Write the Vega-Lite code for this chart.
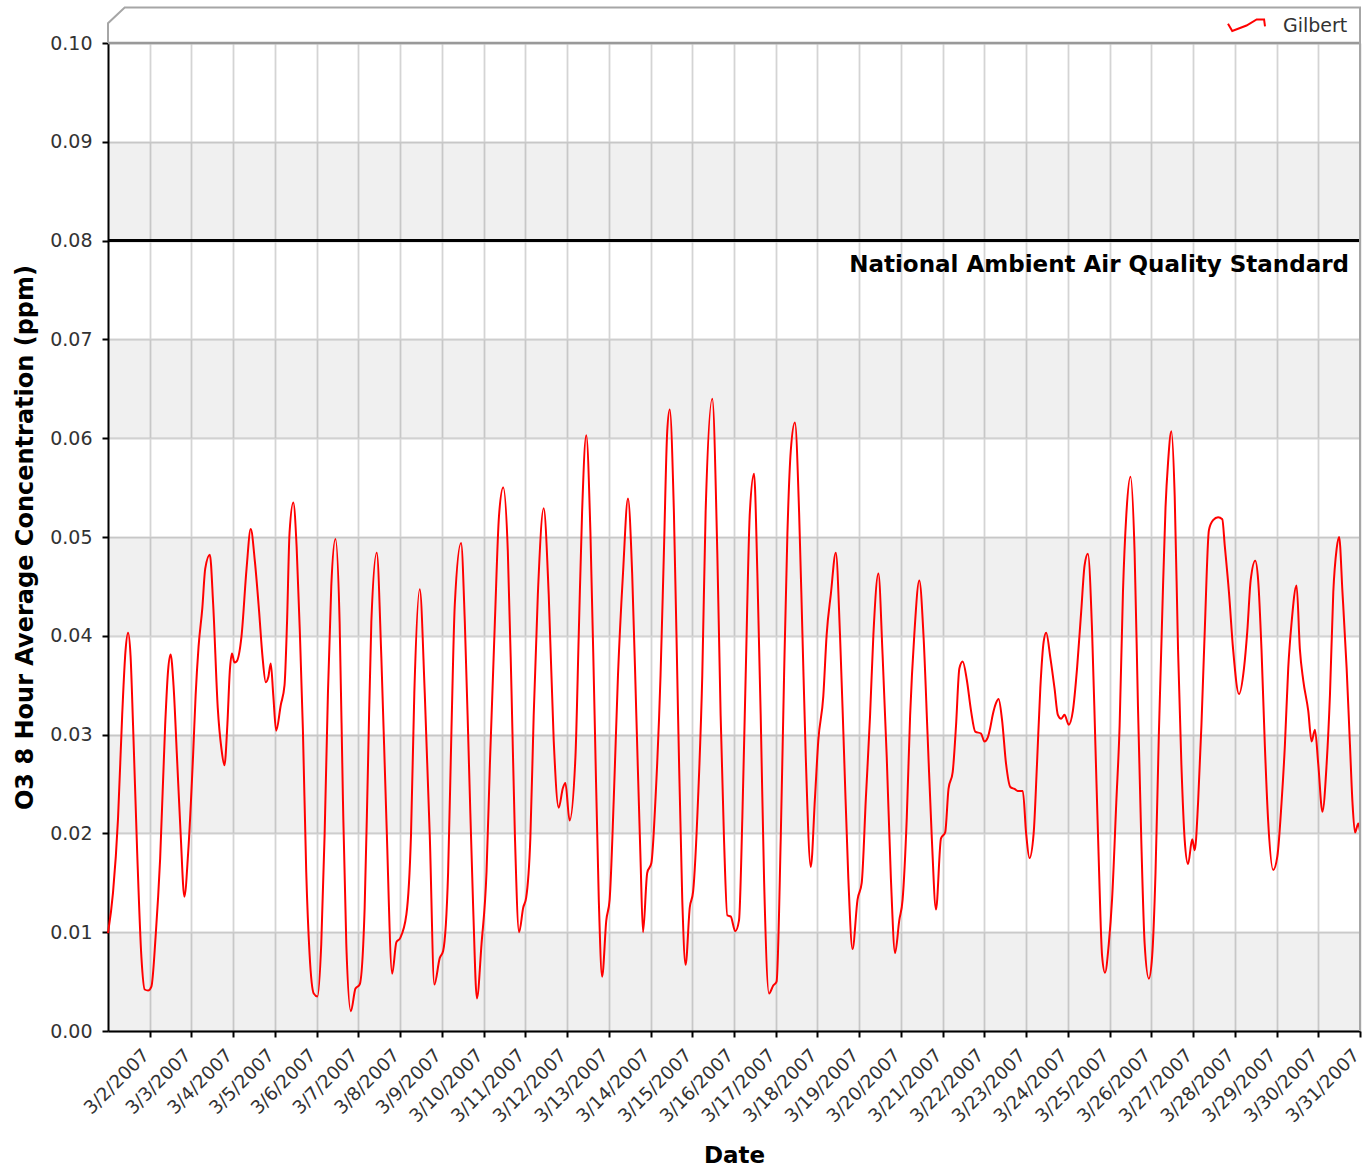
{
  "$schema": "https://vega.github.io/schema/vega-lite/v6.json",
  "width": 1252,
  "height": 988,
  "autosize": {"type": "none"},
  "padding": {"left": 108, "top": 43, "right": 5, "bottom": 138},
  "background": "white",
  "config": {
    "view": {"stroke": null},
    "font": "DejaVu Sans",
    "axis": {"labelFont": "DejaVu Sans", "titleFont": "DejaVu Sans"},
    "legend": {"labelFont": "DejaVu Sans"}
  },
  "layer": [
    {
      "data": {"values": [
        {"ppm": 0.00, "ppm2": 0.01},
        {"ppm": 0.02, "ppm2": 0.03},
        {"ppm": 0.04, "ppm2": 0.05},
        {"ppm": 0.06, "ppm2": 0.07},
        {"ppm": 0.08, "ppm2": 0.09}
      ]},
      "mark": {"type": "rect", "fill": "#000000", "fillOpacity": 0.058},
      "encoding": {
        "x": {"datum": 1, "type": "quantitative", "scale": {"domain": [1, 31], "nice": false, "zero": false}},
        "x2": {"datum": 31},
        "y": {"field": "ppm", "type": "quantitative", "scale": {"domain": [0, 0.1], "nice": false, "zero": false}},
        "y2": {"field": "ppm2"}
      }
    },
    {
      "data": {"values": [
        {"day":1.00,"ppm":0.0099},{"day":1.12,"ppm":0.0140},{"day":1.24,"ppm":0.0215},{"day":1.34,"ppm":0.0320},{"day":1.42,"ppm":0.0385},{"day":1.48,"ppm":0.0403},{"day":1.54,"ppm":0.0380},{"day":1.60,"ppm":0.0310},{"day":1.70,"ppm":0.0180},{"day":1.80,"ppm":0.0075},{"day":1.88,"ppm":0.0042},{"day":1.96,"ppm":0.0041},
        {"day":2.04,"ppm":0.0045},{"day":2.14,"ppm":0.0095},{"day":2.25,"ppm":0.0175},{"day":2.37,"ppm":0.0310},{"day":2.44,"ppm":0.0365},{"day":2.50,"ppm":0.0381},{"day":2.57,"ppm":0.0350},{"day":2.65,"ppm":0.0280},{"day":2.74,"ppm":0.0200},{"day":2.83,"ppm":0.0136},{"day":2.92,"ppm":0.0180},
        {"day":3.04,"ppm":0.0280},{"day":3.10,"ppm":0.0340},{"day":3.17,"ppm":0.0389},{"day":3.26,"ppm":0.0428},{"day":3.33,"ppm":0.0468},{"day":3.44,"ppm":0.0482},{"day":3.52,"ppm":0.0432},{"day":3.63,"ppm":0.0327},{"day":3.72,"ppm":0.0285},{"day":3.79,"ppm":0.0269},{"day":3.86,"ppm":0.0310},{"day":3.92,"ppm":0.0365},{"day":3.97,"ppm":0.0382},
        {"day":4.03,"ppm":0.0373},{"day":4.08,"ppm":0.0374},{"day":4.20,"ppm":0.0400},{"day":4.32,"ppm":0.0468},{"day":4.42,"ppm":0.0508},{"day":4.52,"ppm":0.0475},{"day":4.62,"ppm":0.0425},{"day":4.70,"ppm":0.0380},{"day":4.78,"ppm":0.0353},{"day":4.84,"ppm":0.0358},{"day":4.90,"ppm":0.0372},{"day":4.96,"ppm":0.0340},
        {"day":5.03,"ppm":0.0304},{"day":5.14,"ppm":0.0330},{"day":5.23,"ppm":0.0350},{"day":5.29,"ppm":0.0414},{"day":5.35,"ppm":0.0504},{"day":5.44,"ppm":0.0535},{"day":5.52,"ppm":0.0490},{"day":5.60,"ppm":0.0400},{"day":5.67,"ppm":0.0305},{"day":5.75,"ppm":0.0161},{"day":5.83,"ppm":0.0078},{"day":5.93,"ppm":0.0038},
        {"day":6.02,"ppm":0.0035},{"day":6.11,"ppm":0.0088},{"day":6.19,"ppm":0.0198},{"day":6.27,"ppm":0.0342},{"day":6.35,"ppm":0.0450},{"day":6.45,"ppm":0.0498},{"day":6.55,"ppm":0.0414},{"day":6.63,"ppm":0.0233},{"day":6.71,"ppm":0.0088},{"day":6.82,"ppm":0.0020},{"day":6.93,"ppm":0.0043},
        {"day":7.03,"ppm":0.0047},{"day":7.15,"ppm":0.0125},{"day":7.23,"ppm":0.0269},{"day":7.31,"ppm":0.0414},{"day":7.44,"ppm":0.0484},{"day":7.55,"ppm":0.0378},{"day":7.67,"ppm":0.0215},{"day":7.81,"ppm":0.0058},{"day":7.91,"ppm":0.0090},
        {"day":8.00,"ppm":0.0094},{"day":8.15,"ppm":0.0118},{"day":8.26,"ppm":0.0198},{"day":8.34,"ppm":0.0342},{"day":8.47,"ppm":0.0447},{"day":8.59,"ppm":0.0342},{"day":8.71,"ppm":0.0198},{"day":8.82,"ppm":0.0047},{"day":8.95,"ppm":0.0074},
        {"day":9.03,"ppm":0.0081},{"day":9.15,"ppm":0.0161},{"day":9.23,"ppm":0.0305},{"day":9.31,"ppm":0.0432},{"day":9.46,"ppm":0.0494},{"day":9.55,"ppm":0.0414},{"day":9.65,"ppm":0.0269},{"day":9.75,"ppm":0.0125},{"day":9.84,"ppm":0.0033},{"day":9.95,"ppm":0.0088},
        {"day":10.07,"ppm":0.0161},{"day":10.15,"ppm":0.0269},{"day":10.27,"ppm":0.0414},{"day":10.37,"ppm":0.0522},{"day":10.47,"ppm":0.0550},{"day":10.58,"ppm":0.0486},{"day":10.67,"ppm":0.0342},{"day":10.75,"ppm":0.0198},{"day":10.85,"ppm":0.0100},{"day":10.95,"ppm":0.0125},
        {"day":11.02,"ppm":0.0135},{"day":11.12,"ppm":0.0195},{"day":11.20,"ppm":0.0319},{"day":11.30,"ppm":0.0442},{"day":11.44,"ppm":0.0529},{"day":11.56,"ppm":0.0442},{"day":11.68,"ppm":0.0294},{"day":11.80,"ppm":0.0226},{"day":11.90,"ppm":0.0246},{"day":11.96,"ppm":0.0251},
        {"day":12.06,"ppm":0.0213},{"day":12.20,"ppm":0.0277},{"day":12.28,"ppm":0.0401},{"day":12.36,"ppm":0.0525},{"day":12.46,"ppm":0.0603},{"day":12.56,"ppm":0.0504},{"day":12.66,"ppm":0.0319},{"day":12.76,"ppm":0.0133},{"day":12.84,"ppm":0.0055},{"day":12.94,"ppm":0.0112},
        {"day":13.02,"ppm":0.0133},{"day":13.12,"ppm":0.0236},{"day":13.22,"ppm":0.0360},{"day":13.34,"ppm":0.0463},{"day":13.46,"ppm":0.0539},{"day":13.56,"ppm":0.0463},{"day":13.66,"ppm":0.0319},{"day":13.76,"ppm":0.0174},{"day":13.82,"ppm":0.0100},{"day":13.92,"ppm":0.0160},
        {"day":14.02,"ppm":0.0170},{"day":14.12,"ppm":0.0236},{"day":14.24,"ppm":0.0360},{"day":14.32,"ppm":0.0484},{"day":14.40,"ppm":0.0607},{"day":14.46,"ppm":0.0629},{"day":14.56,"ppm":0.0525},{"day":14.66,"ppm":0.0319},{"day":14.76,"ppm":0.0133},{"day":14.84,"ppm":0.0067},{"day":14.94,"ppm":0.0125},
        {"day":15.02,"ppm":0.0141},{"day":15.14,"ppm":0.0236},{"day":15.24,"ppm":0.0360},{"day":15.32,"ppm":0.0525},{"day":15.48,"ppm":0.0640},{"day":15.60,"ppm":0.0484},{"day":15.68,"ppm":0.0319},{"day":15.76,"ppm":0.0195},{"day":15.84,"ppm":0.0117},{"day":15.92,"ppm":0.0116},
        {"day":16.03,"ppm":0.0101},{"day":16.12,"ppm":0.0112},{"day":16.20,"ppm":0.0216},{"day":16.28,"ppm":0.0360},{"day":16.38,"ppm":0.0525},{"day":16.48,"ppm":0.0564},{"day":16.56,"ppm":0.0463},{"day":16.64,"ppm":0.0319},{"day":16.72,"ppm":0.0154},{"day":16.84,"ppm":0.0038},{"day":16.94,"ppm":0.0046},
        {"day":17.02,"ppm":0.0050},{"day":17.12,"ppm":0.0195},{"day":17.20,"ppm":0.0360},{"day":17.28,"ppm":0.0504},{"day":17.36,"ppm":0.0587},{"day":17.46,"ppm":0.0616},{"day":17.56,"ppm":0.0525},{"day":17.64,"ppm":0.0401},{"day":17.72,"ppm":0.0277},{"day":17.84,"ppm":0.0166},{"day":17.94,"ppm":0.0236},
        {"day":18.02,"ppm":0.0294},{"day":18.14,"ppm":0.0339},{"day":18.22,"ppm":0.0401},{"day":18.32,"ppm":0.0442},{"day":18.44,"ppm":0.0484},{"day":18.54,"ppm":0.0401},{"day":18.64,"ppm":0.0277},{"day":18.74,"ppm":0.0154},{"day":18.84,"ppm":0.0083},{"day":18.96,"ppm":0.0133},
        {"day":19.06,"ppm":0.0150},{"day":19.16,"ppm":0.0236},{"day":19.26,"ppm":0.0319},{"day":19.34,"ppm":0.0401},{"day":19.46,"ppm":0.0463},{"day":19.56,"ppm":0.0381},{"day":19.66,"ppm":0.0277},{"day":19.76,"ppm":0.0154},{"day":19.86,"ppm":0.0079},{"day":19.96,"ppm":0.0112},
        {"day":20.04,"ppm":0.0133},{"day":20.14,"ppm":0.0216},{"day":20.22,"ppm":0.0319},{"day":20.32,"ppm":0.0401},{"day":20.44,"ppm":0.0456},{"day":20.54,"ppm":0.0401},{"day":20.64,"ppm":0.0298},{"day":20.74,"ppm":0.0195},{"day":20.84,"ppm":0.0123},{"day":20.96,"ppm":0.0195},
        {"day":21.06,"ppm":0.0201},{"day":21.14,"ppm":0.0245},{"day":21.24,"ppm":0.0262},{"day":21.32,"ppm":0.0309},{"day":21.40,"ppm":0.0367},{"day":21.48,"ppm":0.0374},{"day":21.58,"ppm":0.0355},{"day":21.68,"ppm":0.0324},{"day":21.78,"ppm":0.0303},{"day":21.92,"ppm":0.0301},
        {"day":22.00,"ppm":0.0293},{"day":22.08,"ppm":0.0297},{"day":22.14,"ppm":0.0307},{"day":22.20,"ppm":0.0320},{"day":22.28,"ppm":0.0332},{"day":22.34,"ppm":0.0336},{"day":22.42,"ppm":0.0316},{"day":22.52,"ppm":0.0270},{"day":22.62,"ppm":0.0247},{"day":22.72,"ppm":0.0245},{"day":22.80,"ppm":0.0243},{"day":22.92,"ppm":0.0243},
        {"day":23.00,"ppm":0.0200},{"day":23.08,"ppm":0.0175},{"day":23.18,"ppm":0.0200},{"day":23.26,"ppm":0.0270},{"day":23.34,"ppm":0.0347},{"day":23.42,"ppm":0.0394},{"day":23.48,"ppm":0.0403},{"day":23.58,"ppm":0.0378},{"day":23.68,"ppm":0.0347},{"day":23.76,"ppm":0.0320},{"day":23.84,"ppm":0.0316},{"day":23.92,"ppm":0.0320},
        {"day":24.02,"ppm":0.0310},{"day":24.12,"ppm":0.0324},{"day":24.22,"ppm":0.0367},{"day":24.32,"ppm":0.0425},{"day":24.40,"ppm":0.0471},{"day":24.48,"ppm":0.0483},{"day":24.58,"ppm":0.0405},{"day":24.66,"ppm":0.0289},{"day":24.74,"ppm":0.0173},{"day":24.82,"ppm":0.0076},{"day":24.89,"ppm":0.0059},{"day":24.98,"ppm":0.0088},
        {"day":25.06,"ppm":0.0134},{"day":25.16,"ppm":0.0231},{"day":25.24,"ppm":0.0309},{"day":25.32,"ppm":0.0444},{"day":25.40,"ppm":0.0522},{"day":25.50,"ppm":0.0561},{"day":25.60,"ppm":0.0483},{"day":25.68,"ppm":0.0328},{"day":25.76,"ppm":0.0192},{"day":25.84,"ppm":0.0088},{"day":25.94,"ppm":0.0053},
        {"day":26.02,"ppm":0.0076},{"day":26.10,"ppm":0.0160},{"day":26.18,"ppm":0.0300},{"day":26.26,"ppm":0.0420},{"day":26.34,"ppm":0.0530},{"day":26.40,"ppm":0.0575},{"day":26.48,"ppm":0.0607},{"day":26.56,"ppm":0.0541},{"day":26.64,"ppm":0.0386},{"day":26.72,"ppm":0.0270},{"day":26.80,"ppm":0.0193},{"day":26.88,"ppm":0.0169},{"day":26.98,"ppm":0.0194},
        {"day":27.04,"ppm":0.0183},{"day":27.12,"ppm":0.0231},{"day":27.20,"ppm":0.0309},{"day":27.28,"ppm":0.0405},{"day":27.38,"ppm":0.0507},{"day":27.48,"ppm":0.0517},{"day":27.60,"ppm":0.0520},{"day":27.70,"ppm":0.0518},{"day":27.76,"ppm":0.0491},{"day":27.86,"ppm":0.0444},{"day":27.96,"ppm":0.0386},
        {"day":28.10,"ppm":0.0341},{"day":28.22,"ppm":0.0367},{"day":28.30,"ppm":0.0405},{"day":28.38,"ppm":0.0456},{"day":28.49,"ppm":0.0476},{"day":28.56,"ppm":0.0456},{"day":28.64,"ppm":0.0386},{"day":28.72,"ppm":0.0289},{"day":28.80,"ppm":0.0212},{"day":28.92,"ppm":0.0163},
        {"day":29.02,"ppm":0.0177},{"day":29.12,"ppm":0.0231},{"day":29.20,"ppm":0.0289},{"day":29.28,"ppm":0.0367},{"day":29.36,"ppm":0.0413},{"day":29.48,"ppm":0.0451},{"day":29.56,"ppm":0.0386},{"day":29.64,"ppm":0.0355},{"day":29.76,"ppm":0.0324},{"day":29.84,"ppm":0.0293},{"day":29.92,"ppm":0.0305},
        {"day":30.00,"ppm":0.0270},{"day":30.10,"ppm":0.0222},{"day":30.20,"ppm":0.0270},{"day":30.28,"ppm":0.0340},{"day":30.36,"ppm":0.0444},{"day":30.44,"ppm":0.0488},{"day":30.50,"ppm":0.0500},{"day":30.58,"ppm":0.0444},{"day":30.68,"ppm":0.0367},{"day":30.76,"ppm":0.0289},{"day":30.82,"ppm":0.0231},{"day":30.88,"ppm":0.0201},{"day":30.96,"ppm":0.0210},
        {"day":31.00,"ppm":0.0202}
      ]},
      "mark": {"type": "line", "interpolate": "monotone", "strokeWidth": 2},
      "encoding": {
        "x": {
          "field": "day", "type": "quantitative",
          "scale": {"domain": [1, 31], "nice": false, "zero": false},
          "axis": {
            "values": [2,3,4,5,6,7,8,9,10,11,12,13,14,15,16,17,18,19,20,21,22,23,24,25,26,27,28,29,30,31],
            "labelExpr": "'3/' + datum.value + '/2007'",
            "labelAngle": -45, "labelAlign": "right", "labelBaseline": "alphabetic",
            "labelFontSize": 18.5, "labelColor": "#333333", "labelPadding": 19,
            "labelOverlap": false, "labelFlush": false, "labelBound": false,
            "tickSize": 6, "tickColor": "#000000", "tickWidth": 2,
            "domainColor": "#000000", "domainWidth": 2,
            "grid": true, "gridColor": "#d4d4d4", "gridWidth": 1.8,
            "title": "Date", "titleFontSize": 23, "titleFontWeight": "bold", "titleColor": "#000000", "titlePadding": 19
          }
        },
        "y": {
          "field": "ppm", "type": "quantitative",
          "scale": {"domain": [0, 0.1], "nice": false, "zero": false},
          "axis": {
            "values": [0, 0.01, 0.02, 0.03, 0.04, 0.05, 0.06, 0.07, 0.08, 0.09, 0.1],
            "format": ".2f",
            "labelFontSize": 19, "labelColor": "#333333", "labelPadding": 10,
            "tickSize": 6, "tickColor": "#000000", "tickWidth": 2,
            "domainColor": "#000000", "domainWidth": 2,
            "grid": true, "gridColor": "#d4d4d4", "gridWidth": 1.8,
            "title": "O3 8 Hour Average Concentration (ppm)", "titleFontSize": 24, "titleFontWeight": "bold", "titleColor": "#000000", "titlePadding": 12
          }
        },
        "color": {
          "datum": "Gilbert",
          "scale": {"range": ["#ff0000"]},
          "legend": {
            "title": null, "orient": "none", "legendX": 1119, "legendY": -37,
            "symbolType": "M-1,-0.1L-0.77,0.3L0,0L0.55,-0.33L0.95,-0.33L1,0.05",
            "symbolSize": 1369, "symbolStrokeWidth": 2, "symbolFillColor": "transparent", "symbolStrokeColor": "#ff0000",
            "labelFontSize": 19, "labelColor": "#333333", "labelOffset": 17, "padding": 0
          }
        }
      }
    },
    {
      "data": {"values": [{"ppm": 0.08}]},
      "mark": {"type": "rule", "color": "#000000", "strokeWidth": 3},
      "encoding": {"y": {"field": "ppm", "type": "quantitative"}}
    },
    {
      "data": {"values": [{"ppm": 0.1}]},
      "mark": {"type": "rule", "color": "#999999", "strokeWidth": 2.5},
      "encoding": {"y": {"field": "ppm", "type": "quantitative"}}
    },
    {
      "data": {"values": [{"day": 31, "ppm": 0.08, "label": "National Ambient Air Quality Standard"}]},
      "mark": {"type": "text", "align": "right", "baseline": "alphabetic", "dx": -11, "dy": 31, "fontSize": 23, "fontWeight": "bold", "color": "#000000", "font": "DejaVu Sans"},
      "encoding": {
        "x": {"field": "day", "type": "quantitative"},
        "y": {"field": "ppm", "type": "quantitative"},
        "text": {"field": "label"}
      }
    },
    {
      "data": {"values": [
        {"day": 1, "ppm": 0.1, "i": 0},
        {"day": 1, "ppm": 0.1020, "i": 1},
        {"day": 1.4, "ppm": 0.1036, "i": 2},
        {"day": 31, "ppm": 0.1036, "i": 3},
        {"day": 31, "ppm": 0, "i": 4}
      ]},
      "mark": {"type": "line", "color": "#a6a6a6", "strokeWidth": 2},
      "encoding": {
        "x": {"field": "day", "type": "quantitative", "scale": {"domain": [1, 31], "nice": false, "zero": false}},
        "y": {"field": "ppm", "type": "quantitative", "scale": {"domain": [0, 0.1], "nice": false, "zero": false}},
        "order": {"field": "i", "type": "quantitative"}
      }
    }
  ]
}
